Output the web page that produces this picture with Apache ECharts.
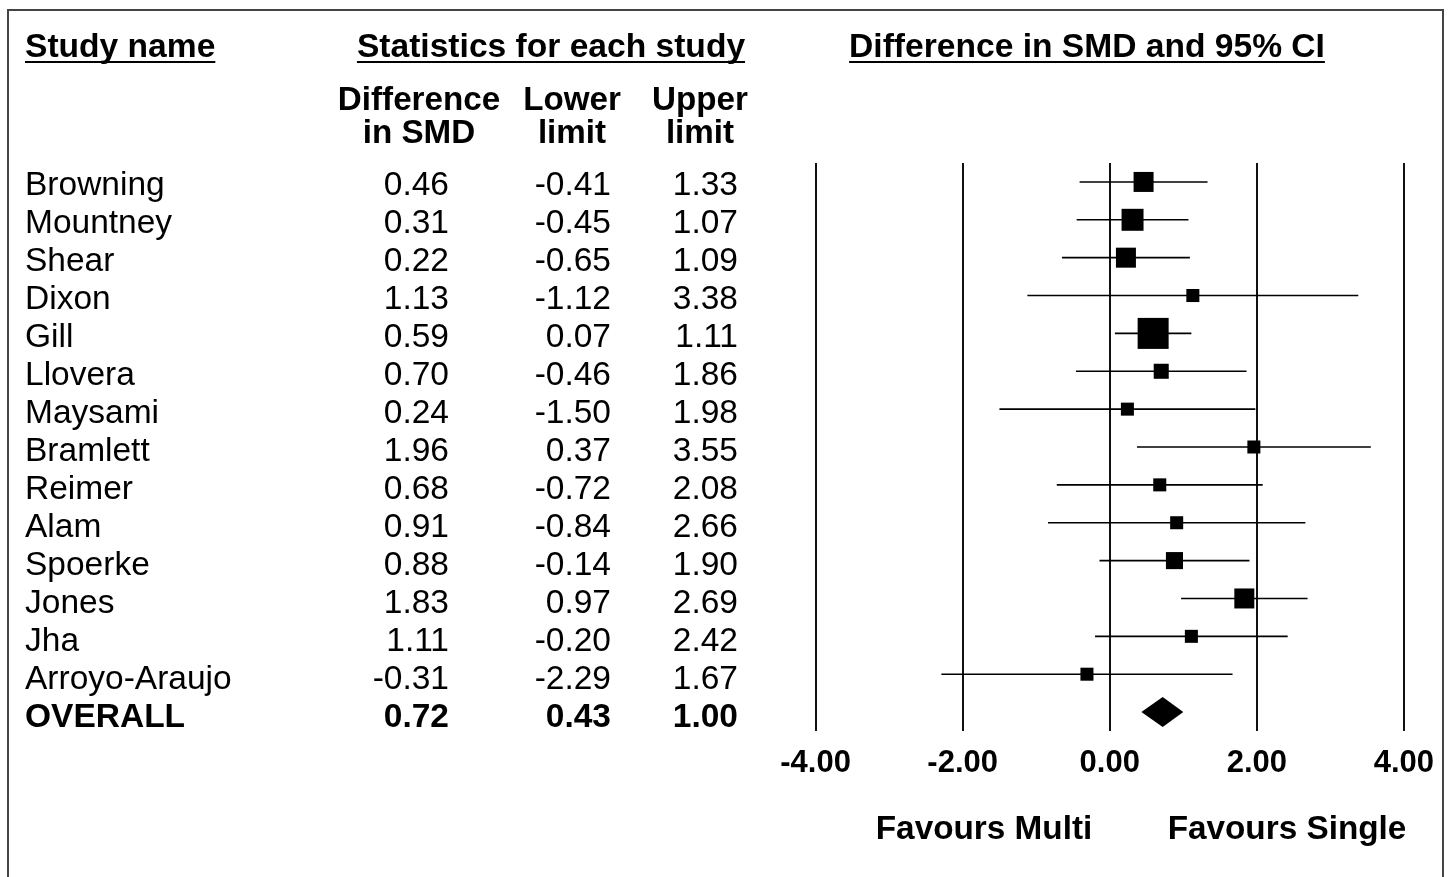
<!DOCTYPE html>
<html>
<head>
<meta charset="utf-8">
<script src="https://cdn.jsdelivr.net/npm/echarts@6/dist/echarts.min.js"></script>
<style>
  html, body { margin: 0; padding: 0; background: #fff; }
  #forest { width: 1448px; height: 877px; }
</style>
</head>
<body>
<div id="forest"></div>
<script>
  // study data
  const studies = ['Browning', 'Mountney', 'Shear', 'Dixon', 'Gill', 'Llovera', 'Maysami',
    'Bramlett', 'Reimer', 'Alam', 'Spoerke', 'Jones', 'Jha', 'Arroyo-Araujo'];
  const diffSmd = [0.46, 0.31, 0.22, 1.13, 0.59, 0.70, 0.24, 1.96, 0.68, 0.91, 0.88, 1.83, 1.11, -0.31];
  const lowerLimit = [-0.41, -0.45, -0.65, -1.12, 0.07, -0.46, -1.50, 0.37, -0.72, -0.84, -0.14, 0.97, -0.20, -2.29];
  const upperLimit = [1.33, 1.07, 1.09, 3.38, 1.11, 1.86, 1.98, 3.55, 2.08, 2.66, 1.90, 2.69, 2.42, 1.67];
  // relative weight (%), box area follows it
  const weights = [9.2, 11.1, 9.2, 3.9, 22.1, 5.2, 3.9, 3.9, 3.9, 3.9, 6.7, 9.2, 3.9, 3.9];
  const overallLabel = 'OVERALL';
  const overallStats = [0.72, 0.43, 1.00]; // diff, lower, upper
  const xTicks = [-4, -2, 0, 2, 4];

  const FONT = '"Liberation Sans", Arial, sans-serif';
  const rowY0 = 186, rowH = 38;
  const maxW = Math.max.apply(null, weights);

  let canvas = document.createElement('canvas').getContext('2d');
  function textWidth(txt, font) {
    canvas.font = font;
    return canvas.measureText(txt).width;
  }

  function txt(text, x, y, opt) {
    opt = opt || {};
    let font = (opt.bold ? 'bold ' : '') + (opt.size || 33.5) + 'px ' + FONT;
    return {
      type: 'text',
      silent: true,
      style: {
        text: text, x: x, y: y, font: font, fill: '#000',
        align: opt.align || 'left', textAlign: opt.align || 'left',
        verticalAlign: 'middle', textVerticalAlign: 'middle'
      }
    };
  }

  function underlined(text, x, y, align) {
    let font = 'bold 33.6px ' + FONT;
    let w = textWidth(text, font);
    let x0 = align === 'center' ? x - w / 2 : x;
    return [
      txt(text, x, y, { bold: true, size: 33.6, align: align }),
      { type: 'line', silent: true, shape: { x1: x0, y1: y + 14, x2: x0 + w, y2: y + 14 },
        style: { stroke: '#000', lineWidth: 2 } }
    ];
  }

  let graphics = [
    { type: 'rect', silent: true, shape: { x: 8, y: 10, width: 1435, height: 900 },
      style: { fill: 'none', stroke: '#444', lineWidth: 2 } }
  ];
  graphics = graphics.concat(underlined('Study name', 25, 48, 'left'));
  graphics = graphics.concat(underlined('Statistics for each study', 551, 48, 'center'));
  graphics = graphics.concat(underlined('Difference in SMD and 95% CI', 1087, 48, 'center'));

  let colX = [449, 611, 738];
  let headCenters = [419, 572, 700];
  let heads = [['Difference', 'in SMD'], ['Lower', 'limit'], ['Upper', 'limit']];
  heads.forEach(function (h, i) {
    graphics.push(txt(h[0], headCenters[i], 101, { bold: true, size: 33.2, align: 'center' }));
    graphics.push(txt(h[1], headCenters[i], 134, { bold: true, size: 33.2, align: 'center' }));
  });

  studies.forEach(function (name, i) {
    let y = rowY0 + i * rowH;
    graphics.push(txt(name, 25, y));
    graphics.push(txt(diffSmd[i].toFixed(2), colX[0], y, { align: 'right' }));
    graphics.push(txt(lowerLimit[i].toFixed(2), colX[1], y, { align: 'right' }));
    graphics.push(txt(upperLimit[i].toFixed(2), colX[2], y, { align: 'right' }));
  });
  let oy = rowY0 + studies.length * rowH;
  graphics.push(txt(overallLabel, 25, oy, { bold: true }));
  overallStats.forEach(function (v, k) {
    graphics.push(txt(v.toFixed(2), colX[k], oy, { bold: true, align: 'right' }));
  });

  graphics.push(txt('Favours Multi', 984, 830, { bold: true, size: 33.3, align: 'center' }));
  graphics.push(txt('Favours Single', 1287, 830, { bold: true, size: 33.3, align: 'center' }));

  let ciData = studies.map(function (s, i) { return [lowerLimit[i], upperLimit[i], i]; });
  let boxData = studies.map(function (s, i) { return [diffSmd[i], i, weights[i]]; });

  let chart = echarts.init(document.getElementById('forest'));
  let option = {
    backgroundColor: '#fff',
    animation: false,
    grid: { left: 815.6, right: 44.1, top: 163, bottom: 146, containLabel: false },
    xAxis: {
      type: 'value', min: -4, max: 4, interval: 2,
      axisLine: { show: false }, axisTick: { show: false },
      splitLine: { show: true, showMinLine: true, showMaxLine: true, lineStyle: { color: '#111', width: 2 } },
      axisLabel: {
        color: '#000', fontFamily: FONT, fontWeight: 'bold', fontSize: 31, margin: 17,
        formatter: function (v) { return xTicks.indexOf(v) >= 0 ? v.toFixed(2) : ''; }
      }
    },
    yAxis: {
      type: 'value', inverse: true, min: -0.5, max: 14.5, show: false
    },
    series: [
      {
        type: 'custom',
        data: ciData,
        encode: { x: [0, 1], y: 2 },
        renderItem: function (params, api) {
          let a = api.coord([api.value(0), api.value(2)]);
          let b = api.coord([api.value(1), api.value(2)]);
          return { type: 'line', shape: { x1: a[0], y1: a[1], x2: b[0], y2: b[1] },
            style: { stroke: '#000', lineWidth: 1.6 } };
        },
        z: 2
      },
      {
        type: 'scatter',
        data: boxData,
        symbol: 'rect',
        symbolSize: function (d) { return Math.sqrt(d[2] / maxW) * 31; },
        itemStyle: { color: '#000', opacity: 1 },
        z: 3
      },
      {
        type: 'custom',
        data: [[overallStats[0], overallStats[1], overallStats[2], studies.length]],
        encode: { x: [0, 1, 2], y: 3 },
        renderItem: function (params, api) {
          let row = api.value(3);
          let c = api.coord([api.value(0), row]);
          let l = api.coord([api.value(1), row]);
          let r = api.coord([api.value(2), row]);
          let h = 15;
          return { type: 'polygon',
            shape: { points: [[l[0], c[1]], [c[0], c[1] - h], [r[0], c[1]], [c[0], c[1] + h]] },
            style: { fill: '#000' } };
        },
        z: 3
      }
    ],
    graphic: { elements: graphics }
  };
  chart.setOption(option);
</script>
</body>
</html>
